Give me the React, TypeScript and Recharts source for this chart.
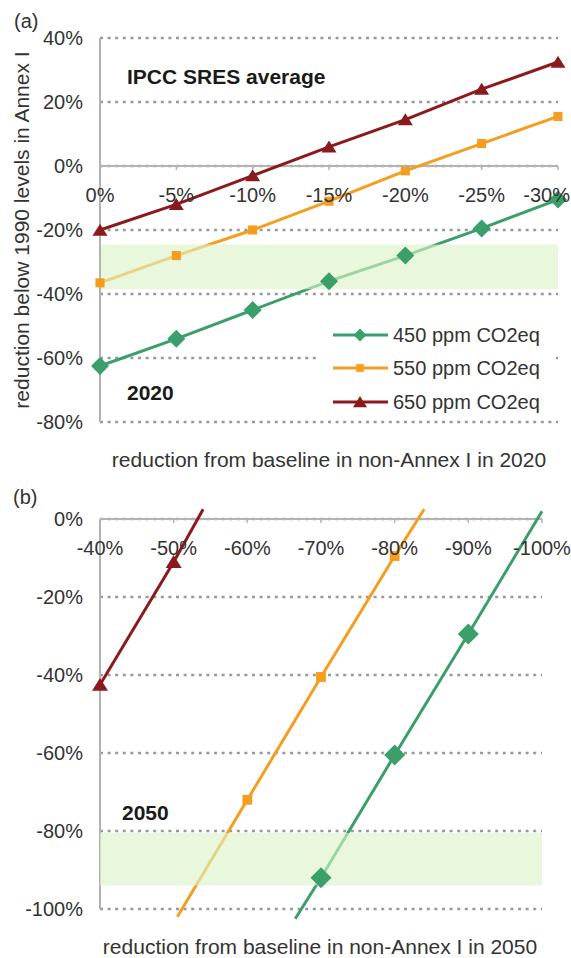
import React from "react";
import { LineChart, Line, XAxis, YAxis, CartesianGrid, ReferenceLine, ReferenceArea } from "recharts";

const FONT = '"Liberation Sans", Arial, sans-serif';
const TXT = "#333";
const AX = "#b3b3b3";
const GRID = "#999";
const GREEN = "#3a9f6a";
const ORANGE = "#f59d1c";
const RED = "#8b1a1d";
const BAND = "#dcf3c8";

// (a) 2020 – reduction from baseline in non-Annex I (x) vs reduction below 1990 in Annex I (y)
const xA = [0, -5, -10, -15, -20, -25, -30];
const yTicksA = [40, 20, 0, -20, -40, -60, -80];
const a450 = [-62.5, -54, -45, -36, -28, -19.5, -10.5];
const a550 = [-36.5, -28, -20, -11, -1.5, 7, 15.5];
const a650 = [-20, -12, -3, 6, 14.5, 24, 32.5];
const bandA = [-24.5, -38.5];

// (b) 2050 – marked points plus where each trend line ends
const xTicksB = [-40, -50, -60, -70, -80, -90, -100];
const yTicksB = [0, -20, -40, -60, -80, -100];
const b450X = [-70, -80, -90];
const b450Y = [-92, -60.5, -29.5];
const b450EndX = [-66.5, -100];
const b450EndY = [-102.5, 2];
const b550X = [-60, -70, -80];
const b550Y = [-72, -40.5, -9.5];
const b550EndX = [-50.5, -84];
const b550EndY = [-102, 2.5];
const b650X = [-40, -50];
const b650Y = [-42.5, -11];
const b650EndX = [-54];
const b650EndY = [2.5];
const bandB = [-80.5, -94];

const seriesNames = ["450 ppm CO2eq", "550 ppm CO2eq", "650 ppm CO2eq"];
const colors = [GREEN, ORANGE, RED];
const shapes = ["diamond", "square", "triangle"];

const zip = (xs: number[], ys: number[]) => xs.map((x, i) => ({ x, y: ys[i] }));

function Marker({ shape, cx, cy, s, color }: any) {
  if (shape === "diamond")
    return <path d={`M${cx},${cy - s}L${cx + s},${cy}L${cx},${cy + s}L${cx - s},${cy}Z`} fill={color} />;
  if (shape === "square")
    return <rect x={cx - s * 0.7} y={cy - s * 0.7} width={s * 1.4} height={s * 1.4} fill={color} />;
  return <path d={`M${cx},${cy - s * 0.85}L${cx + s},${cy + s * 0.75}L${cx - s},${cy + s * 0.75}Z`} fill={color} />;
}

const XTick = ({ x, payload, zeroY }: any) => {
  const label = `${payload.value}%`;
  // keep the last label inside the picture instead of letting it run off the edge
  const half = label.length * 5.6;
  const atEdge = x + half > 570;
  return (
    <g>
      <line x1={x} x2={x} y1={zeroY} y2={zeroY + 4} stroke={AX} strokeWidth={1.5} />
      <text
        x={atEdge ? 570 : x}
        y={zeroY + 29}
        dy="0.355em"
        textAnchor={atEdge ? "end" : "middle"}
        fill={TXT}
        fontSize={20}
        fontFamily={FONT}
      >
        {label}
      </text>
    </g>
  );
};

// x axis is 1px tall (a 0px axis is not drawn), its ticks are moved up to the 0% line
const A = { w: 571, h: 480, top: 38, bottom: 57, right: 13, min: -80, max: 40 };
const zeroA = A.top + (A.max / (A.max - A.min)) * (A.h - A.top - A.bottom - 1);
const B = { w: 571, h: 478, top: 27.3, bottom: 36.3, right: 29, min: -103, max: 3 };
const zeroB = B.top + (B.max / (B.max - B.min)) * (B.h - B.top - B.bottom - 1);

const sizesA = [9, 6.5, 7.5];
const sizesB = [10.5, 7, 8];

function ChartA() {
  const lines = [a450, a550, a650];
  return (
    <LineChart width={A.w} height={A.h} margin={{ top: A.top, right: A.right, bottom: A.bottom, left: 0 }}>
      <CartesianGrid vertical={false} horizontalValues={yTicksA} stroke={GRID} strokeWidth={2.5} strokeDasharray="3 4.6" />
      <ReferenceLine y={0} stroke={AX} strokeWidth={2} />
      <XAxis
        type="number"
        dataKey="x"
        domain={[-30, 0]}
        reversed
        ticks={xA}
        interval={0}
        height={1}
        axisLine={false}
        tickLine={false}
        tick={(p: any) => <XTick {...p} zeroY={zeroA} />}
      />
      <YAxis
        type="number"
        domain={[A.min, A.max]}
        ticks={yTicksA}
        interval={0}
        width={100}
        axisLine={{ stroke: AX, strokeWidth: 2 }}
        tickLine={false}
        tickSize={0}
        tickMargin={17}
        tickFormatter={(v: number) => `${v}%`}
        tick={{ fill: TXT, fontSize: 20, fontFamily: FONT }}
      />
      {[2, 1, 0].map((i) => (
        <Line
          key={seriesNames[i]}
          data={zip(xA, lines[i])}
          dataKey="y"
          stroke={colors[i]}
          strokeWidth={3}
          isAnimationActive={false}
          dot={(p: any) => (
            <Marker key={p.index} shape={shapes[i]} cx={p.cx} cy={p.cy} s={sizesA[i]} color={colors[i]} />
          )}
          activeDot={false}
        />
      ))}
      <ReferenceArea y1={bandA[0]} y2={bandA[1]} fill={BAND} fillOpacity={0.62} stroke="none" zIndex={450} />
    </LineChart>
  );
}

function ChartB() {
  const marks = [zip(b450X, b450Y), zip(b550X, b550Y), zip(b650X, b650Y)];
  const ends = [zip(b450EndX, b450EndY), zip(b550EndX, b550EndY), zip(b650EndX, b650EndY)];
  return (
    <LineChart width={B.w} height={B.h} margin={{ top: B.top, right: B.right, bottom: B.bottom, left: 0 }}>
      <CartesianGrid vertical={false} horizontalValues={yTicksB} stroke={GRID} strokeWidth={2.5} strokeDasharray="3 4.6" />
      <ReferenceLine y={0} stroke={AX} strokeWidth={2} />
      <ReferenceLine segment={[{ x: -40, y: -100 }, { x: -40, y: 0 }]} stroke={AX} strokeWidth={2} />
      <XAxis
        type="number"
        dataKey="x"
        domain={[-100, -40]}
        reversed
        ticks={xTicksB}
        interval={0}
        height={1}
        axisLine={false}
        tickLine={false}
        tick={(p: any) => <XTick {...p} zeroY={zeroB} />}
      />
      <YAxis
        type="number"
        domain={[B.min, B.max]}
        ticks={yTicksB}
        interval={0}
        width={100}
        axisLine={false}
        tickLine={false}
        tickSize={0}
        tickMargin={17}
        tickFormatter={(v: number) => `${v}%`}
        tick={{ fill: TXT, fontSize: 20, fontFamily: FONT }}
      />
      {[2, 1, 0].map((i) => {
        const markX = marks[i].map((p) => p.x);
        const pts = [...marks[i], ...ends[i]].sort((p, q) => p.x - q.x);
        return (
          <Line
            key={seriesNames[i]}
            data={pts}
            dataKey="y"
            stroke={colors[i]}
            strokeWidth={3}
            isAnimationActive={false}
            activeDot={false}
            dot={(p: any) =>
              markX.includes(p.payload.x) ? (
                <Marker key={p.index} shape={shapes[i]} cx={p.cx} cy={p.cy} s={sizesB[i]} color={colors[i]} />
              ) : (
                <g key={p.index} />
              )
            }
          />
        );
      })}
      <ReferenceArea y1={bandB[0]} y2={bandB[1]} fill={BAND} fillOpacity={0.62} stroke="none" zIndex={450} />
    </LineChart>
  );
}

function Overlay() {
  const t = { fontFamily: FONT, fill: TXT } as const;
  const b = { fontFamily: FONT, fill: "#1a1a1a", fontWeight: 700 } as const;
  const rowY = [335, 368, 402];
  return (
    <svg width={571} height={958} style={{ position: "absolute", left: 0, top: 0, pointerEvents: "none" }}>
      <text x={14} y={28} fontSize={20} {...t}>(a)</text>
      <text x={13} y={504} fontSize={20} {...t}>(b)</text>
      <text x={127} y={84} fontSize={21} {...b}>IPCC SRES average</text>
      <text x={127} y={400} fontSize={21} {...b}>2020</text>
      <text x={122} y={820} fontSize={21} {...b}>2050</text>
      <text x={329} y={467} fontSize={21} textAnchor="middle" {...t}>
        reduction from baseline in non-Annex I in 2020
      </text>
      <text x={320} y={954} fontSize={21} textAnchor="middle" {...t}>
        reduction from baseline in non-Annex I in 2050
      </text>
      <text x={22} y={230} dy="0.35em" fontSize={21} textAnchor="middle" transform="rotate(-90 22 230)" {...t}>
        reduction below 1990 levels in Annex I
      </text>
      <rect x={318} y={316} width={238} height={102} fill="#fff" />
      {seriesNames.map((n, i) => (
        <g key={n}>
          <line x1={333} x2={388} y1={rowY[i]} y2={rowY[i]} stroke={colors[i]} strokeWidth={3} />
          <Marker shape={shapes[i]} cx={360} cy={rowY[i]} s={[6.5, 5.5, 7][i]} color={colors[i]} />
          <text x={393} y={rowY[i] + 7} fontSize={20} {...t}>{n}</text>
        </g>
      ))}
    </svg>
  );
}

export default function App() {
  return (
    <div style={{ position: "absolute", left: 0, top: 0, width: 571, height: 958, background: "#fff" }}>
      <div style={{ position: "absolute", left: 0, top: 0 }}>
        <ChartA />
      </div>
      <div style={{ position: "absolute", left: 0, top: 480 }}>
        <ChartB />
      </div>
      <Overlay />
    </div>
  );
}
